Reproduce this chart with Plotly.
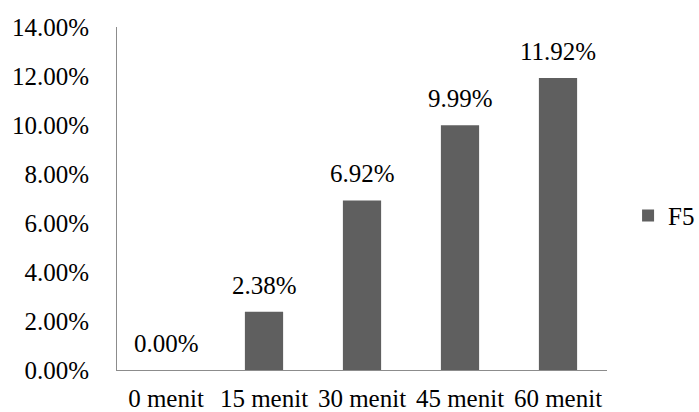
import plotly.graph_objects as go

categories = ["0 menit", "15 menit", "30 menit", "45 menit", "60 menit"]
values = [0.00, 2.38, 6.92, 9.99, 11.92]
series_name = "F5"
tick_values = [0, 2, 4, 6, 8, 10, 12, 14]
tick_labels = ["0.00%", "2.00%", "4.00%", "6.00%", "8.00%", "10.00%", "12.00%", "14.00%"]

FONT = "Times New Roman, Liberation Serif, serif"
FS = 25
BAR = "#5f5f5f"
AXIS = "#8c8c8c"

fig = go.Figure()
fig.add_trace(go.Bar(
    x=categories, y=values, name=series_name,
    marker=dict(color=BAR, line=dict(width=0)),
    showlegend=True,
))

for c, v in zip(categories, values):
    fig.add_annotation(
        x=c, y=v, text=f"{v:.2f}%", showarrow=False,
        xanchor="center", yanchor="bottom", yshift=11,
        font=dict(family=FONT, size=FS, color="#000000"),
    )

fig.update_layout(
    width=699, height=412,
    margin=dict(l=117, r=92, t=27, b=42, autoexpand=False),
    paper_bgcolor="white", plot_bgcolor="white",
    font=dict(family=FONT, size=FS, color="#000000"),
    bargap=0.61,
    legend=dict(
        x=1.043, y=0.45, xanchor="left", yanchor="middle",
        font=dict(family=FONT, size=FS, color="#000000"),
        itemwidth=30, bgcolor="rgba(0,0,0,0)", borderwidth=0,
    ),
    xaxis=dict(
        showline=True, linecolor=AXIS, linewidth=1,
        showgrid=False, zeroline=False, automargin=False,
        ticks="outside", ticklen=6, tickcolor="rgba(0,0,0,0)",
        tickfont=dict(family=FONT, size=FS, color="#000000"),
    ),
    yaxis=dict(
        range=[0, 14], tickvals=tick_values, ticktext=tick_labels,
        showline=True, linecolor=AXIS, linewidth=1,
        showgrid=False, zeroline=False, automargin=False,
        ticks="outside", ticklen=22, tickcolor="rgba(0,0,0,0)",
        tickfont=dict(family=FONT, size=FS, color="#000000"),
    ),
)

fig.write_html("out.html")
